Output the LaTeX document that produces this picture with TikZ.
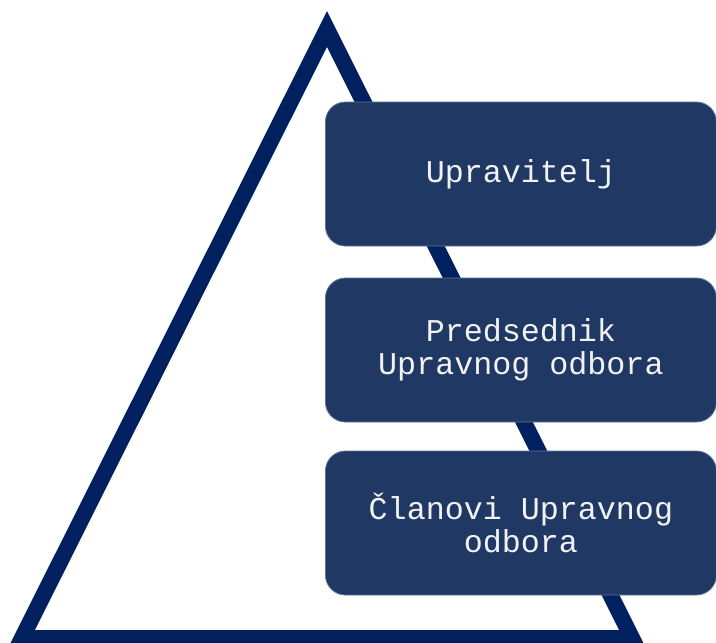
\documentclass[tikz,border=0pt]{standalone}
\usepackage{fontspec}
\setmonofont{Liberation Mono}
\definecolor{tri}{HTML}{002060}
\definecolor{boxfill}{HTML}{203864}
\definecolor{txt}{HTML}{F2F2F2}
\begin{document}
\begin{tikzpicture}[x=1pt,y=-1pt,
  level/.style={draw=boxfill!70!white, line width=0.8pt, fill=boxfill, rounded corners=20pt,
    minimum width=391pt, minimum height=144pt, inner sep=0pt, text=txt,
    align=center, font=\ttfamily\fontsize{31.7}{33}\selectfont, anchor=west}]
\useasboundingbox (0,0) rectangle (716,643);
\clip (0,0) rectangle (716,643);
\coordinate (apex) at (327,29);
\coordinate (bl) at (22,638);
\coordinate (br) at (632,638);
\draw[tri, line width=16pt, miter limit=10, line join=miter] (apex) -- (br) -- (bl) -- cycle;
\node[level] (n1) at (325,174) {Upravitelj};
\node[level] (n2) at (325,350) {Predsednik\\Upravnog odbora};
\node[level] (n3) at (325,523) {Članovi Upravnog\\odbora};
\end{tikzpicture}
\end{document}
